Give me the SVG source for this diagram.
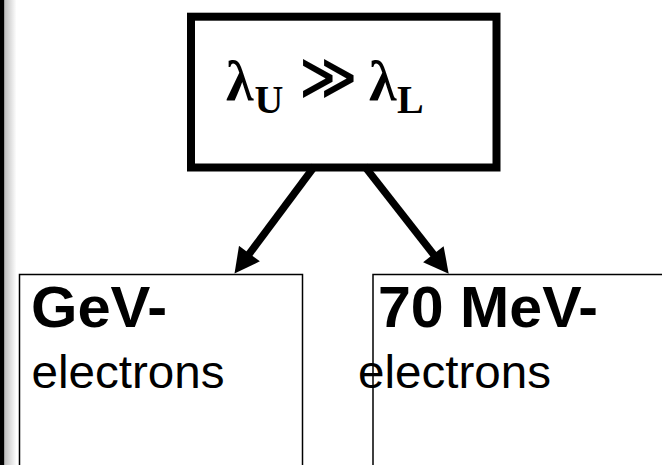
<svg xmlns="http://www.w3.org/2000/svg" width="662" height="465" viewBox="0 0 662 465">
<style>
.serif{font-family:"Liberation Serif","Times New Roman",serif;font-weight:bold;fill:#000}
.head{font-family:"Liberation Sans",Arial,sans-serif;font-weight:bold;font-size:58px;fill:#000}
.sub{font-family:"Liberation Sans",Arial,sans-serif;font-size:46px;fill:#000}
.box{fill:#fff;stroke:#000;stroke-width:1.5}
.conn{stroke:#000;stroke-width:7.5;fill:none;marker-end:url(#ah)}
</style>
<defs>
<linearGradient id="sh" x1="0" y1="0" x2="1" y2="0">
<stop offset="0" stop-color="#bdbdbd"/>
<stop offset="1" stop-color="#ffffff"/>
</linearGradient>
<marker id="ah" markerUnits="userSpaceOnUse" markerWidth="26" markerHeight="26" viewBox="0 0 24 25" refX="6" refY="12.5" orient="auto">
<path d="M0,0 L24,12.5 L0,25 z" fill="#000"/>
</marker>
</defs>
<rect x="0" y="0" width="662" height="465" fill="#fff"/>
<rect x="0" y="0" width="4.5" height="465" fill="#000"/>
<rect x="4.5" y="0" width="12" height="465" fill="url(#sh)"/>
<g id="node-top">
<rect x="191" y="16.7" width="305.5" height="150.8" fill="#fff" stroke="#000" stroke-width="8"/>
<text class="serif"><tspan x="226" y="100" font-size="56">λ</tspan><tspan x="254.5" y="113" font-size="40">U</tspan><tspan x="299" y="96" font-size="56" font-family="DejaVu Sans, sans-serif">≫</tspan><tspan x="369" y="100" font-size="56">λ</tspan><tspan x="397" y="113" font-size="40">L</tspan></text>
</g>
<g id="node-gev">
<rect class="box" x="19.5" y="274.5" width="283" height="200"/>
<text class="head" x="31" y="327" textLength="136" lengthAdjust="spacingAndGlyphs">GeV-</text>
<text class="sub" x="31.5" y="388" textLength="193" lengthAdjust="spacingAndGlyphs">electrons</text>
</g>
<g id="node-mev">
<rect class="box" x="373" y="274.5" width="300" height="200"/>
<text class="head" x="378" y="327" textLength="220" lengthAdjust="spacingAndGlyphs">70 MeV-</text>
<text class="sub" x="358" y="388" textLength="193" lengthAdjust="spacingAndGlyphs">electrons</text>
</g>
<g id="connectors">
<line class="conn" x1="314.7" y1="166" x2="245.7" y2="258.6"/>
<line class="conn" x1="364.4" y1="166" x2="437.2" y2="259.1"/>
</g>
</svg>
